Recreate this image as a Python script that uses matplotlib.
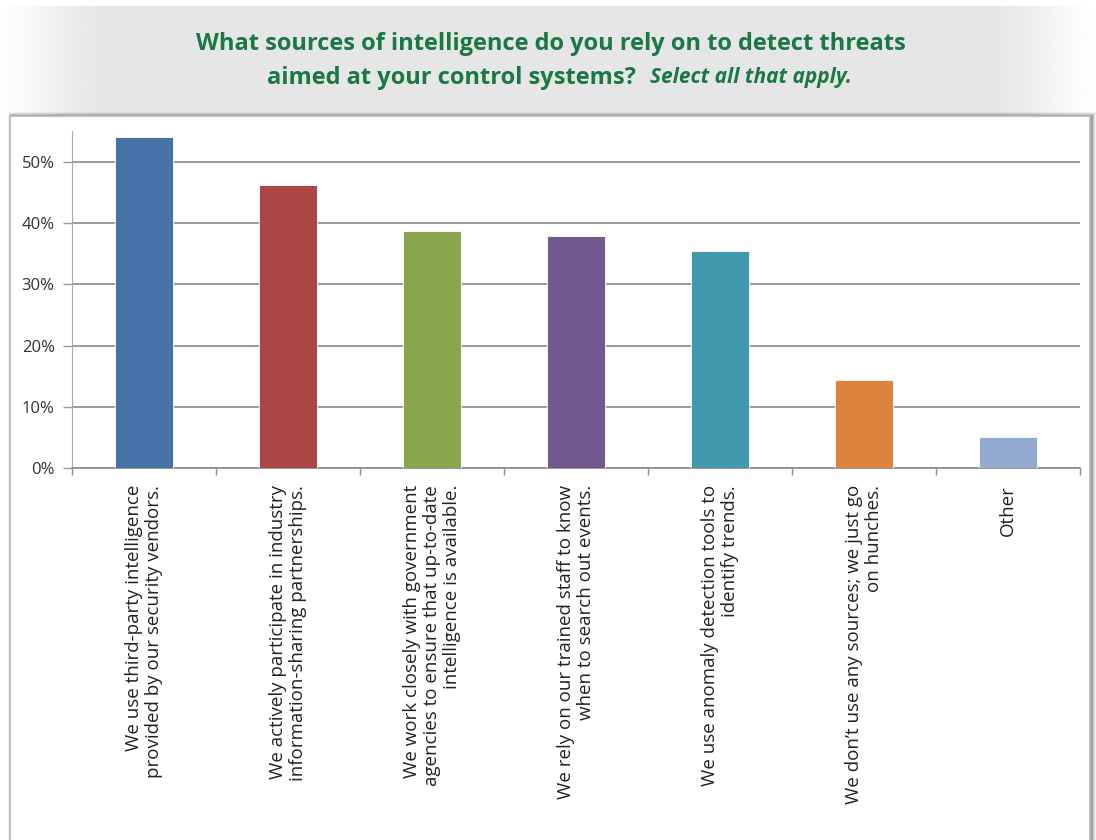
#!/usr/bin/env python3

import numpy as np
import matplotlib
matplotlib.use('Agg')
import matplotlib.pyplot as plt
from matplotlib.patches import Rectangle

categories = [
    'We use third-party intelligence\nprovided by our security vendors.',
    'We actively participate in industry\ninformation-sharing partnerships.',
    'We work closely with government\nagencies to ensure that up-to-date\nintelligence is available.',
    'We rely on our trained staff to know\nwhen to search out events.',
    'We use anomaly detection tools to\nidentify trends.',
    'We don\u2019t use any sources; we just go\non hunches.',
    'Other',
]
values = [54.0, 46.2, 38.7, 37.8, 35.4, 14.4, 5.1]
colors = ['#4572a7', '#aa4643', '#89a54e', '#71588f', '#4198af', '#db843d', '#93a9cf']
yticks = [0, 10, 20, 30, 40, 50]

title_line1 = 'What sources of intelligence do you rely on to detect threats'
title_line2 = 'aimed at your control systems?'
title_note = 'Select all that apply.'

plt.rcParams['font.family'] = ['Open Sans', 'DejaVu Sans']

W, H = 1096, 840
fig = plt.figure(figsize=(W / 100, H / 100), dpi=100)

# background: gray header band and white panel with a soft shadow
bg = fig.add_axes([0, 0, 1, 1])
bg.set_xlim(0, W)
bg.set_ylim(H, 0)
bg.axis('off')
x = np.linspace(0, 1, W)
fade = np.clip(np.minimum(x, 1 - x) / 0.09, 0, 1)
row = 1 - 0.1 * fade
band = np.tile(row, (20, 1))
bg.imshow(band, cmap='gray', vmin=0, vmax=1, extent=[0, W, 118, 6],
          aspect='auto', interpolation='bilinear')
for i, a in enumerate([0.05, 0.08, 0.12, 0.18]):
    off = 4 - i
    bg.add_patch(Rectangle((10 - off + 2, 116 - off), 1080 + 2 * off, 760,
                           facecolor='black', edgecolor='none', alpha=a))
bg.add_patch(Rectangle((10, 116), 1080, 740, facecolor='white',
                       edgecolor='#b5b5b5', lw=1.2))

green = '#1a7845'
bg.text(551, 44, title_line1, ha='center', va='center', fontsize=17,
        fontweight='bold', color=green)
bg.text(636, 78, title_line2, ha='right', va='center', fontsize=17,
        fontweight='bold', color=green)
bg.text(650, 78, title_note, ha='left', va='center', fontsize=15,
        fontweight='bold', style='italic', color=green)

# chart
ax = fig.add_axes([72 / W, 1 - 468.3 / H, (1080 - 72) / W, (468.3 - 131) / H])
ax.set_facecolor('none')
pos = np.arange(len(values))
ax.bar(pos, values, width=0.4, color=colors, edgecolor='white', linewidth=0.6,
       zorder=3)
ax.set_xlim(-0.5, len(values) - 0.5)
ax.set_ylim(0, 55)

ax.set_yticks(yticks)
ax.set_yticklabels([f'{t}%' for t in yticks])
ax.yaxis.grid(True, color='#8a8a8a', linewidth=1.2, zorder=0)
ax.tick_params(axis='y', length=6.5, width=1, color='#9a9a9a', pad=6,
               labelsize=12, labelcolor='#333333')

ax.set_xticks(pos)
ax.set_xticklabels(categories, rotation=90, ha='center', va='top',
                   multialignment='right', fontsize=13.5, linespacing=1.15,
                   color='#222222')
ax.set_xticks(np.arange(len(values) + 1) - 0.5, minor=True)
ax.tick_params(axis='x', which='major', length=0, pad=12)
ax.tick_params(axis='x', which='minor', length=5, width=1, color='#8a8a8a')

for side in ['top', 'right']:
    ax.spines[side].set_visible(False)
ax.spines['left'].set_color('#a8a8a8')
ax.spines['bottom'].set_color('#8a8a8a')
ax.spines['bottom'].set_linewidth(1.2)

fig.savefig('out.png', dpi=100)
